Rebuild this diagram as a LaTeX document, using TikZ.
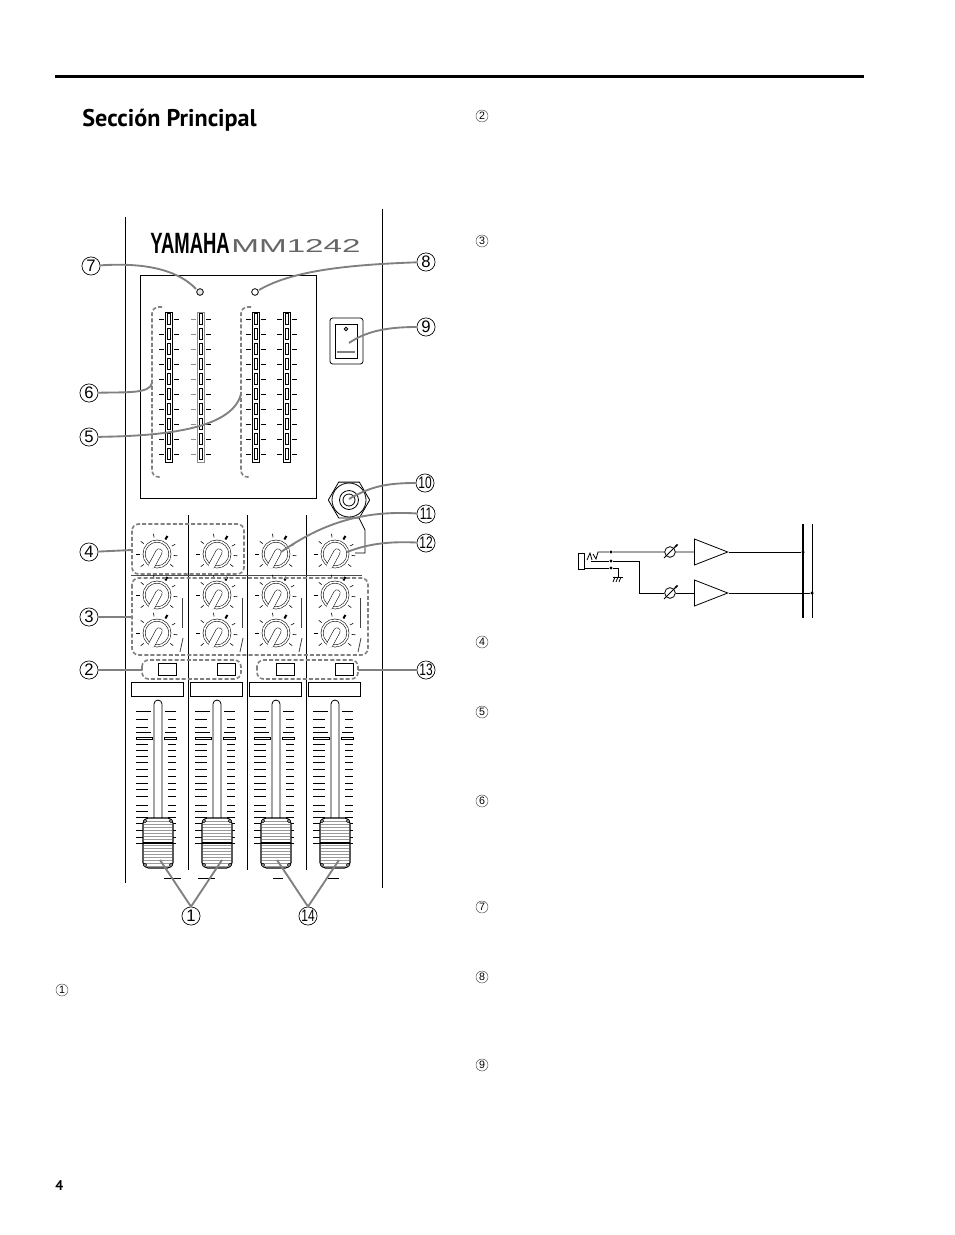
\documentclass[tikz,border=0pt]{standalone}
\usepackage{fontspec}
\setmainfont{Liberation Sans}
\newfontfamily\titlefont{PT Sans}
\usetikzlibrary{shapes.geometric}

\begin{document}
\begin{tikzpicture}[x=0.75pt, y=-0.75pt, line width=0.6pt]
    \tikzstyle{callout}=[circle, draw, inner sep=0pt, minimum size=13.6pt, line width=0.5pt, fill=white, font=\fontsize{12.5}{13}\selectfont]
    \tikzstyle{textnum}=[circle, draw=black!70, inner sep=0pt, minimum size=9pt, line width=0.35pt, font=\fontsize{8}{8}\selectfont]
    \tikzstyle{leader}=[draw=black!50, line width=1.4pt]
    \tikzstyle{groupbox}=[draw=black!50, line width=1.2pt, dash pattern=on 3pt off 1.6pt, rounded corners=5pt]
    \tikzstyle{knob}=[circle, draw, double, double distance=1.2pt, fill=white, inner sep=0pt, minimum size=19.4pt, line width=0.4pt]
    \tikzstyle{amp}=[isosceles triangle, isosceles triangle stretches, draw, inner sep=0pt, minimum width=19.5pt, minimum height=25pt, anchor=lower side]
    \tikzstyle{vr}=[circle, draw, inner sep=0pt, minimum size=8pt]
    \tikzstyle{dot}=[circle, fill, inner sep=0pt, minimum size=2.6pt]

    \useasboundingbox (0,0) rectangle (954,1235);
    \fill[white] (0,0) rectangle (954,1235);

    % Page
    \draw[line width=2.1pt] (55,76.5) -- (864,76.5);
    \node[anchor=base west, inner sep=0pt, font=\titlefont\bfseries\fontsize{18.1}{18}\selectfont] (title) at (82,126) {Sección Principal};
    \node[anchor=base west, inner sep=0pt, font=\titlefont\bfseries\fontsize{10.5}{10}\selectfont] (pagenum) at (55,1190) {4};
    \node[textnum] (t1) at (62,990) {1};
    \node[textnum] (t2) at (482,116) {2};
    \node[textnum] (t3) at (482,241) {3};
    \node[textnum] (t4) at (482,642) {4};
    \node[textnum] (t5) at (482,712) {5};
    \node[textnum] (t6) at (482,801) {6};
    \node[textnum] (t7) at (482,907) {7};
    \node[textnum] (t8) at (482,977) {8};
    \node[textnum] (t9) at (482,1065) {9};

    % Panel
    \draw (125.5,217) -- (125.5,883);
    \draw (382,209) -- (382,888);
    \foreach \cx in {188,247,306} {
        \draw (\cx,515) -- (\cx,870);
    }
    \draw[black!70] (131,575) -- (362,575);
    \node[anchor=west, inner sep=0pt, font=\bfseries] (yamaha) at (150,243) {\scalebox{.63}[1]{\fontsize{22}{22}\selectfont YAMAHA}};
    \node[anchor=west, inner sep=0pt] (model) at (231,245.5) {\scalebox{1.78}[1]{\color{black!60}\fontsize{14}{14}\selectfont MM1242}};

    % Meters
    \draw (140,275) rectangle (316,498);
    \node[circle, draw, inner sep=0pt, minimum size=5pt, fill=black!10] (ledl) at (200,292) {};
    \node[circle, draw, inner sep=0pt, minimum size=5pt, fill=white] (ledr) at (255,292) {};
    \foreach \mx/\mc in {169/black, 201/black!45, 256/black, 287/black} {
        \draw[\mc] (\mx-3.5,312) rectangle (\mx+3.5,462);
        \foreach \my in {319,334,...,454} {
            \draw (\mx-1.3,\my-5.5) rectangle (\mx+1.3,\my+5.5);
            \draw[\mc] (\mx-10,\my) -- (\mx-5,\my);
            \draw (\mx+5,\my) -- (\mx+10,\my);
        }
    }
    \draw[groupbox] (162,307) -- (152,307) -- (152,477) -- (161,477);
    \draw[groupbox] (251,307) -- (241,307) -- (241,477) -- (250,477);

    % Switch
    \draw[rounded corners=2pt] (330,318) rectangle (363,364);
    \draw (335,324) rectangle (357,358);
    \draw (346,329) circle [radius=1.8];
    \draw[black!50, line width=1pt] (337,352) -- (355,352);

    % Jack
    \node[regular polygon, regular polygon sides=6, draw, inner sep=0pt, minimum size=31pt] (jack) at (349,500) {};
    \draw (jack) circle [radius=17];
    \draw (jack) circle [radius=9.5];
    \draw (jack) circle [radius=6];
    \coordinate (jackend) at (355,553);
    \draw (359,518) -- (365,530) -- (365,553) -- (jackend);

    % Knobs
    \foreach \kx in {157,217,276,335} {
        \foreach \ky in {554,595,633} {
            \node[knob] (k\kx-\ky) at (\kx,\ky) {};
            \foreach \ka in {218,180,142,100,28,-5,-38} {
                \draw[line width=0.45pt] (k\kx-\ky) ++(\ka:12.6pt) -- ++(\ka:2.8pt);
            }
            \draw[line width=1.5pt] (k\kx-\ky) ++(60:12.6pt) -- ++(60:3pt);
            \draw[line width=5.2pt, line cap=round] (k\kx-\ky) ++(2,-2) -- ++(-7,13);
            \draw[white, line width=4.4pt, line cap=round] (k\kx-\ky) ++(2,-2) -- ++(-7.5,14);
        }
        \draw[black!75] (\kx+25,598) -- (\kx+25,628);
        \draw[black!75] (\kx+26,638) -- (\kx+23,652);
    }

    % Buttons
    \foreach \bx in {158,217,276,335} {
        \node[draw, fill=white, inner sep=0pt, minimum width=14pt, minimum height=9.5pt] (btn\bx) at (\bx+9.5,669.5) {};
        \node[draw, fill=white, inner sep=0pt, minimum width=38.5pt, minimum height=11pt] (lbl\bx) at (\bx-0.5,689.5) {};
    }

    % Groups
    \draw[groupbox] (132,524) rectangle (244,574);
    \draw[groupbox] (132,578) rectangle (368,655);
    \draw[groupbox] (142,660) rectangle (241,679);
    \draw[groupbox] (257,660) rectangle (358,679);

    % Faders
    \foreach \fx in {158,217,276,335} {
        \draw[rounded corners=3pt] (\fx-4,820) -- (\fx-4,700) -- (\fx+4,700) -- (\fx+4,820);
        \draw (\fx-22,711) -- (\fx-7,711);
        \draw (\fx-22,732) -- (\fx-7,732);
        \draw (\fx+7,711) -- (\fx+18,711);
        \draw (\fx+7,732) -- (\fx+18,732);
        \foreach \fy in {719,727,744,750,756,762,769,776,783,789,796,805,811,817,823,830,837,843} {
            \draw (\fx-22,\fy) -- (\fx-10,\fy);
            \draw (\fx+10,\fy) -- (\fx+18,\fy);
        }
        \draw (\fx-22,737) rectangle (\fx-6,739.5);
        \draw (\fx+6,737) rectangle (\fx+18,739.5);
        \node[draw, fill=white, rounded corners=4pt, inner sep=0pt, minimum width=22.5pt, minimum height=37.5pt, line width=0.8pt] (fad\fx) at (\fx,843) {};
        \foreach \fy in {821,824,...,866} {
            \draw[black!40, line width=0.6pt] (\fx-14,\fy) -- (\fx+14,\fy);
        }
        \draw[line width=1.2pt] (\fx-15,843) -- (\fx+15,843);
        \foreach \sx/\sy in {-13/-22,13/-22,-13/22,13/22} {
            \draw[fill=white] (\fx+\sx,843+\sy) circle [radius=1.6];
        }
    }
    \draw (164,878) -- (181,878);
    \draw (198,878) -- (215,878);
    \draw (273,878) -- (283,878);
    \draw (328,878) -- (339,878);

    % Circuit
    \draw (578,553) rectangle (584,569);
    \node[amp] (ampa) at (694,552) {};
    \node[amp] (ampb) at (694,593) {};
    \node[vr] (vra) at (670,552) {};
    \node[vr] (vrb) at (670,593) {};
    \draw[line width=1.5pt] (803,524) -- (803,618);
    \draw (812,524) -- (812,618);
    \node[dot] (busa) at (803,552) {};
    \node[dot] (busb) at (812,593) {};
    \node[dot] (ja) at (611,552) {};
    \node[dot] (jb) at (611,561) {};
    \node[dot] (jc) at (611,568) {};
    \draw (587,560) -- (590,553) -- (592,560);
    \draw (593,554) -- (596,559) -- (598,552) -- (ja) -- (vra) -- (ampa.lower side);
    \draw (ampa.apex) -- (busa);
    \draw (591,561) -- (jb) -- (639,561) -- (639,593) -- (vrb) -- (ampb.lower side);
    \draw (ampb.apex) -- (busb);
    \draw (584,568) -- (jc) -- (618,568) -- (618,577);
    \draw (613,577) -- (623,577);
    \foreach \gx in {615,618,621} {
        \draw (\gx,577) -- (\gx-2,582);
    }
    \foreach \vn in {vra,vrb} {
        \draw (\vn) ++(-6,6) -- ++(12,-12);
        \draw[line width=1.2pt] (\vn) ++(5,-5) -- ++(2.5,-2.5);
    }

    % Callouts
    \node[callout] (c7) at (91,266) {7};
    \node[callout] (c8) at (426,262) {8};
    \node[callout] (c9) at (426,327) {9};
    \node[callout] (c6) at (89,393) {6};
    \node[callout] (c5) at (89,437) {5};
    \node[callout] (c10) at (425,483) {\scalebox{.72}[1]{10}};
    \node[callout] (c11) at (426,514) {\scalebox{.72}[1]{11}};
    \node[callout] (c12) at (426,543) {\scalebox{.72}[1]{12}};
    \node[callout] (c4) at (89,552) {4};
    \node[callout] (c3) at (89,617) {3};
    \node[callout] (c2) at (89,670) {2};
    \node[callout] (c13) at (426,670) {\scalebox{.72}[1]{13}};
    \node[callout] (c1) at (191,916) {1};
    \node[callout] (c14) at (308,916) {\scalebox{.72}[1]{14}};

    % Leaders
    \coordinate (e7) at (196,289);
    \coordinate (e8) at (259,290);
    \coordinate (e9) at (349,343);
    \coordinate (e6) at (152,383);
    \coordinate (e5) at (241,394);
    \coordinate (e10) at (349,499);
    \coordinate (e11) at (281,552);
    \coordinate (e12) at (347,552);
    \coordinate (e4) at (132,550);
    \coordinate (e3) at (132,617);
    \coordinate (e2) at (142,670);
    \coordinate (e13) at (358,670);
    \coordinate (h1a) at (160,860);
    \coordinate (h1b) at (222,860);
    \coordinate (h14a) at (277,860);
    \coordinate (h14b) at (339,860);
    \draw[leader] (c7) .. controls (150,262) and (180,272) .. (e7);
    \draw[leader] (c8) .. controls (340,265) and (290,272) .. (e8);
    \draw[leader] (c9) .. controls (385,327) and (365,332) .. (e9);
    \draw[leader] (c6) .. controls (125,392) and (150,394) .. (e6);
    \draw[leader] (c5) .. controls (160,436) and (232,430) .. (e5);
    \draw[leader] (c10) .. controls (385,483) and (370,487) .. (e10);
    \draw[leader] (c11) .. controls (360,510) and (320,525) .. (e11);
    \draw[leader] (c12) .. controls (385,541) and (365,545) .. (e12);
    \draw[leader] (c4) -- (e4);
    \draw[leader] (c3) -- (e3);
    \draw[leader] (c2) -- (e2);
    \draw[leader] (c13) -- (e13);
    \draw[leader] (c1.north) -- (h1a);
    \draw[leader] (c1.north) -- (h1b);
    \draw[leader] (c14.north) -- (h14a);
    \draw[leader] (c14.north) -- (h14b);
\end{tikzpicture}
\end{document}
